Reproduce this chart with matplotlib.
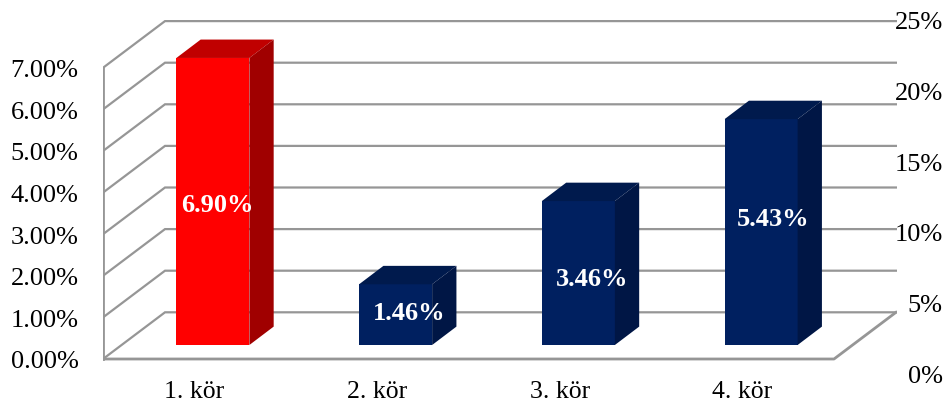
import matplotlib
matplotlib.use('Agg')
import matplotlib.pyplot as plt
from matplotlib.patches import Polygon

plt.rcParams['font.family'] = ['Liberation Serif', 'DejaVu Serif']

# data
categories = ['1. kör', '2. kör', '3. kör', '4. kör']
values = [6.90, 1.46, 3.46, 5.43]
labels = ['6.90%', '1.46%', '3.46%', '5.43%']
left_ticks = [0, 1, 2, 3, 4, 5, 6, 7]
right_ticks = [0, 5, 10, 15, 20, 25]

W, H = 945, 402
fig = plt.figure(figsize=(W / 100, H / 100), dpi=100)
# axes box in pixels: x 103..897, y 21..379
ax = fig.add_axes([103 / W, 1 - 379 / H, (897 - 103) / W, (379 - 21) / H])

px_x = 182.75  # pixels for one category
px_y = 41.6    # pixels for 1%
ax.set_xlim(-0.5, -0.5 + (897 - 103) / px_x)
ax.set_ylim(-19 / px_y, 339 / px_y)

# depth of the box and of the bars
box_dx, box_dy = 62 / px_x, 46.7 / px_y
off_dx, off_dy = 18.5 / px_x, 14 / px_y
bar_dx, bar_dy = 24.3 / px_x, 18.4 / px_y
bar_w = 73 / px_x

grid_col = '#969696'
x0, x1 = -0.5, 3.5

# walls and floor
for v in left_ticks:
    top = v + box_dy
    ax.plot([x0, x0 + box_dx, x1 + box_dx], [v, top, top], color=grid_col, lw=1.6, zorder=1,
            solid_joinstyle='miter')
ax.plot([x0, x0], [0, left_ticks[-1]], color=grid_col, lw=2, zorder=1)
ax.plot([x0, x1, x1 + box_dx], [0, 0, box_dy], color=grid_col, lw=2, zorder=1)

colors = ['#FF0000', '#002060', '#002060', '#002060']
top_cols = ['#C00000', '#001A4D', '#001A4D', '#001A4D']
side_cols = ['#A00000', '#001645', '#001645', '#001645']
# label offsets from the centre of the front face, in pixels
lab_dx = [4, 14, 14, 12]
lab_dy = [-3, 2, -5, 14]

xs = [i + off_dx for i in range(len(values))]
ax.bar(xs, values, width=bar_w, bottom=off_dy, color=colors, zorder=3)
for i, (x, v) in enumerate(zip(xs, values)):
    l, r = x - bar_w / 2, x + bar_w / 2
    b, t = off_dy, off_dy + v
    ax.add_patch(Polygon([(l, t), (r, t), (r + bar_dx, t + bar_dy), (l + bar_dx, t + bar_dy)],
                         closed=True, facecolor=top_cols[i], edgecolor='none', zorder=3))
    ax.add_patch(Polygon([(r, b), (r, t), (r + bar_dx, t + bar_dy), (r + bar_dx, b + bar_dy)],
                         closed=True, facecolor=side_cols[i], edgecolor='none', zorder=3))
    ax.annotate(labels[i], (x, b + v / 2), xytext=(lab_dx[i] * 0.72, lab_dy[i] * 0.72),
                textcoords='offset points', ha='center', va='center', color='white',
                fontsize=19, fontweight='bold', zorder=4)

ax.set_xticks(range(len(categories)))
ax.set_xticklabels(categories, fontsize=18.5)
ax.set_yticks(left_ticks)
ax.set_yticklabels(['%.2f%%' % v for v in left_ticks], fontsize=19)
ax.tick_params(length=0)
ax.tick_params(axis='y', pad=17.5)
ax.tick_params(axis='x', pad=1.5)
for s in ax.spines.values():
    s.set_visible(False)
ax.patch.set_visible(False)

# second axis on the right, 0% at y=374 px and 25% at y=19 px
ax2 = ax.twinx()
per = (374 - 19) / 25
ax2.set_ylim((374 - 379) / per, (374 - 21) / per)
ax2.set_yticks(right_ticks)
ax2.set_yticklabels(['%d%%' % v for v in right_ticks], fontsize=19, ha='right')
ax2.tick_params(axis='y', length=0, pad=33)
for s in ax2.spines.values():
    s.set_visible(False)
ax2.patch.set_visible(False)

fig.savefig('out.png', dpi=100, facecolor='white')
